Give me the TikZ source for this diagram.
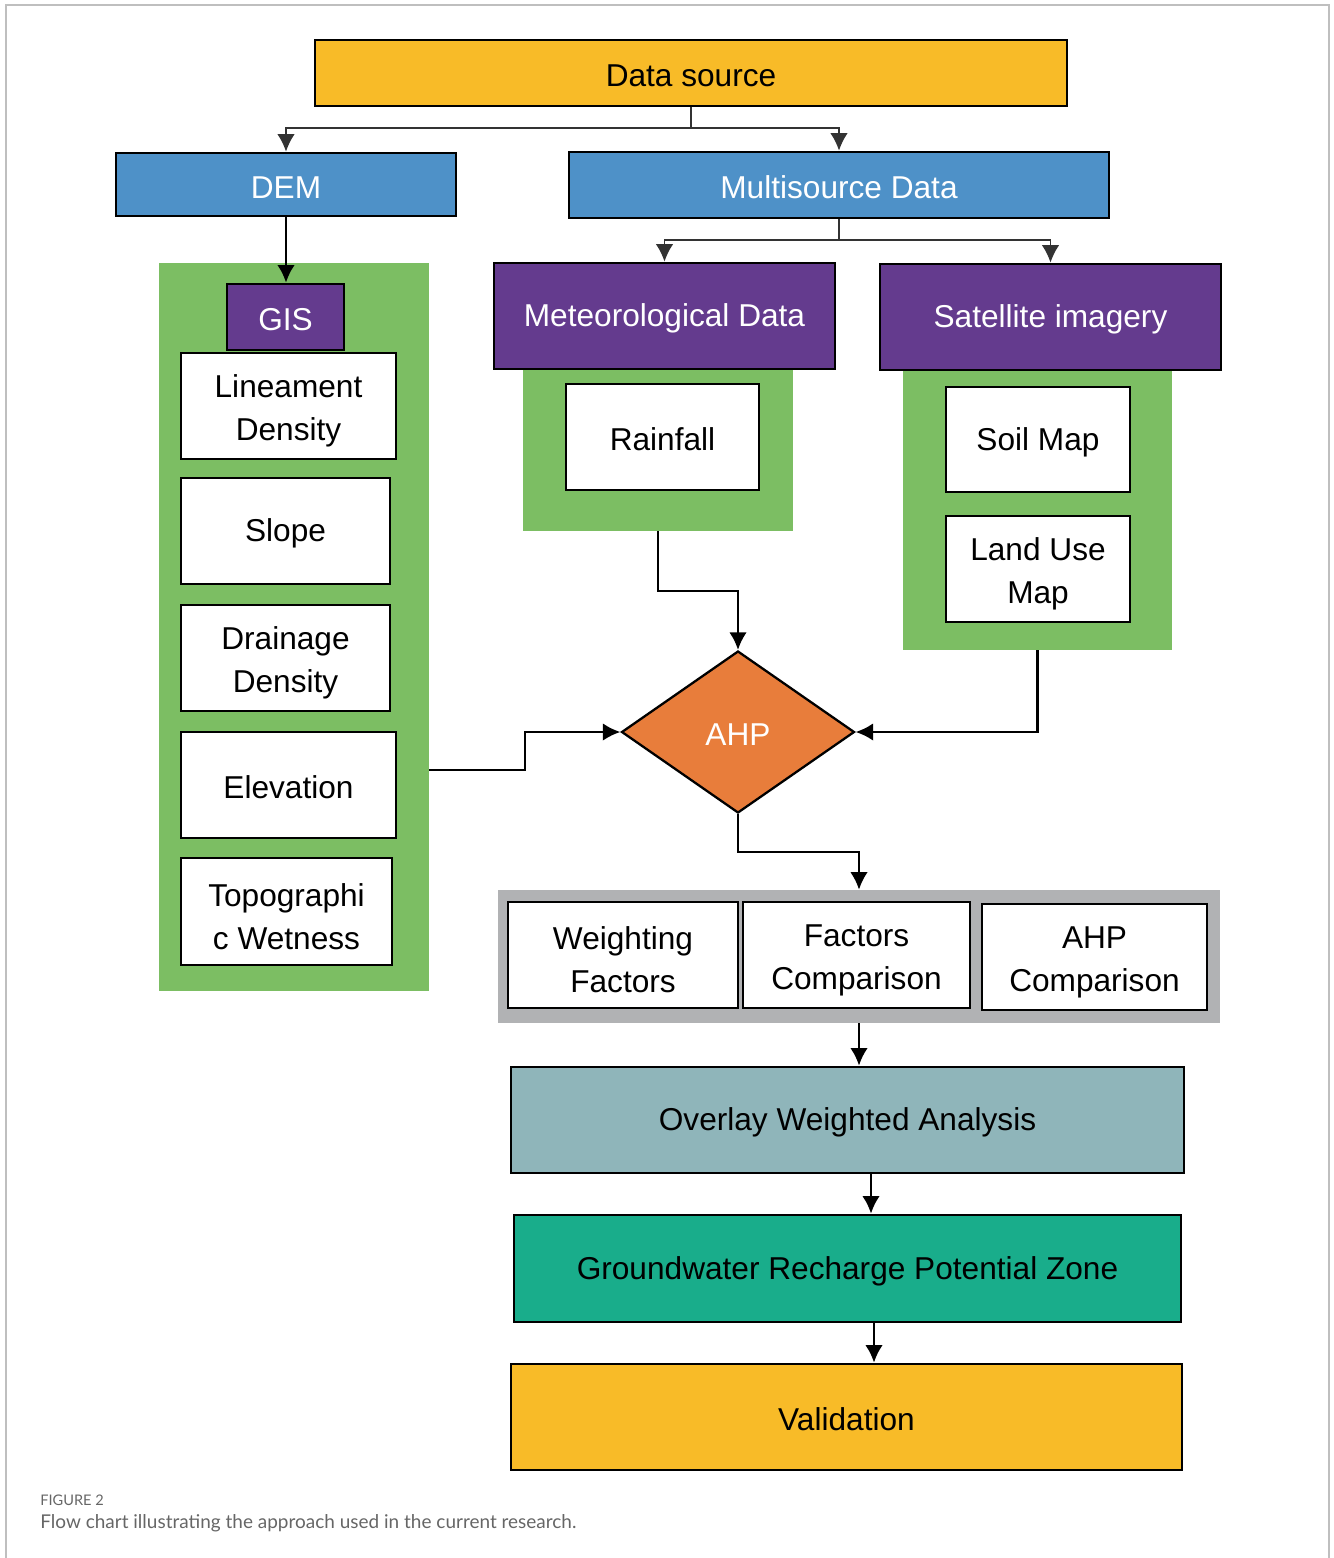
\documentclass[tikz,border=0pt]{standalone}
\usepackage{fontspec}
\setmainfont{Liberation Sans}
\newfontfamily\capfont{Lato}
\usetikzlibrary{arrows.meta,shapes.geometric}

\definecolor{srcyellow}{HTML}{F8BB28}
\definecolor{demblue}{HTML}{4E91C8}
\definecolor{hdpurple}{HTML}{643B8E}
\definecolor{pnlgreen}{HTML}{7CBE63}
\definecolor{ahporange}{HTML}{E87D3B}
\definecolor{pnlgray}{HTML}{B1B2B4}
\definecolor{ovateal}{HTML}{8FB5BA}
\definecolor{grzteal}{HTML}{19AD8B}

\tikzset{
  box/.style={draw=black,line width=1.6pt,fill=white,align=center,inner sep=0pt,
    font=\fontsize{18}{24.5}\selectfont,execute at begin node={\rule{0pt}{15.8pt}}},
  box2/.style={box,execute at begin node={\rule{0pt}{43pt}}},
  panel/.style={inner sep=0pt},
  link/.style={->,line width=1.3pt},
  thinlink/.style={line width=0.9pt,black!80},
}

\begin{document}
\begin{tikzpicture}[x=0.02cm,y=-0.02cm,>={Latex[length=10pt,width=10pt]}]
  \useasboundingbox (0,0) rectangle (1333,1558);
  % frame and caption
  \draw[color=black!25,line width=1.2pt] (6,1558) -- (6,5) -- (1329,5) -- (1329,1558);
  \node[anchor=west,inner sep=0pt,text=black!60,font=\capfont\fontsize{8.3}{10}\selectfont] (fig) at (40,1500) {FIGURE 2};
  \node[anchor=west,inner sep=0pt,text=black!60,font=\capfont\fontsize{10.8}{13}\selectfont] (cap) at (40,1523) {Flow chart illustrating the approach used in the current research.};

  % panels
  \node[panel,fill=pnlgreen,minimum width=5.4cm,minimum height=14.56cm] (gpl) at (294,627) {};
  \node[panel,fill=pnlgreen,minimum width=5.4cm,minimum height=3.24cm] (gpm) at (658,450) {};
  \node[panel,fill=pnlgreen,minimum width=5.38cm,minimum height=5.6cm] (gps) at (1037.5,510) {};
  \node[panel,fill=pnlgray,minimum width=14.44cm,minimum height=2.66cm] (gray) at (859,956.5) {};

  % top
  \node[box,fill=srcyellow,minimum width=15.04cm,minimum height=1.32cm] (src) at (691,73) {Data source};
  \node[box,fill=demblue,text=white,minimum width=6.8cm,minimum height=1.26cm] (dem) at (286,184.5) {DEM};
  \node[box,fill=demblue,text=white,minimum width=10.8cm,minimum height=1.32cm] (msd) at (839,185) {Multisource Data};

  % left column
  \node[box,fill=hdpurple,text=white,minimum width=2.34cm,minimum height=1.32cm] (gis) at (285.5,317) {GIS};
  \node[box2,minimum width=4.3cm,minimum height=2.12cm] (lin) at (288.5,406) {Lineament\\Density};
  \node[box,minimum width=4.18cm,minimum height=2.12cm] (slope) at (285.5,531) {Slope};
  \node[box2,minimum width=4.18cm,minimum height=2.12cm] (drain) at (285.5,658) {Drainage\\Density};
  \node[box,minimum width=4.3cm,minimum height=2.12cm] (elev) at (288.5,785) {Elevation};
  \node[box2,minimum width=4.22cm,minimum height=2.14cm] (topo) at (286.5,911.5) {Topographi\\c Wetness};

  % right columns
  \node[box,fill=hdpurple,text=white,minimum width=6.82cm,minimum height=2.12cm] (met) at (664.5,316) {Meteorological Data};
  \node[box,minimum width=3.86cm,minimum height=2.12cm] (rain) at (662.5,437) {Rainfall};
  \node[box,fill=hdpurple,text=white,minimum width=6.82cm,minimum height=2.12cm] (sat) at (1050.5,317) {Satellite imagery};
  \node[box,minimum width=3.68cm,minimum height=2.1cm] (soil) at (1038,439.5) {Soil Map};
  \node[box2,minimum width=3.68cm,minimum height=2.12cm] (lu) at (1038,569) {Land Use\\Map};

  \node[box,diamond,fill=ahporange,text=white,line width=1.3pt,minimum width=4.66cm,minimum height=3.24cm] (ahp) at (738,732) {AHP};

  % bottom
  \node[box2,minimum width=4.6cm,minimum height=2.12cm] (wf) at (623,955) {Weighting\\Factors};
  \node[box2,minimum width=4.54cm,minimum height=2.12cm] (fc) at (856.5,955) {Factors\\Comparison};
  \node[box2,minimum width=4.5cm,minimum height=2.12cm] (ac) at (1094.5,957) {AHP\\Comparison};
  \node[box,fill=ovateal,minimum width=13.46cm,minimum height=2.12cm] (ova) at (847.5,1120) {Overlay Weighted Analysis};
  \node[box,fill=grzteal,minimum width=13.34cm,minimum height=2.14cm] (grz) at (847.5,1268.5) {Groundwater Recharge Potential Zone};
  \node[box,fill=srcyellow,minimum width=13.42cm,minimum height=2.12cm] (val) at (846.5,1417) {Validation};

  % connectors
  \coordinate (j1) at (691,128);
  \coordinate (j2) at (839,240);
  \draw[thinlink] (src.south) -- (j1);
  \draw[thinlink,->] (j1) -| (dem.north);
  \draw[thinlink,->] (j1) -| (msd.north);
  \draw[link] (dem.south) -- (dem.south |- gis.north);
  \draw[thinlink] (msd.south) -- (j2);
  \draw[thinlink,->] (j2) -| (met.north);
  \draw[thinlink,->] (j2) -| (sat.north);
  \draw[link] (gpm.south) -- ++(0,60) -| (ahp.north);
  \draw[link] ([yshift=-2.86cm]gpl.east) -- ++(96,0) |- (ahp.west);
  \draw[link] (gps.south) |- (ahp.east);
  \draw[link] (ahp.south) -- ++(0,38) -| (gray.north);
  \draw[link] (gray.south) -- (gray.south |- ova.north);
  \draw[link] ([xshift=0.47cm]ova.south) -- ([xshift=0.47cm]ova.south |- grz.north);
  \draw[link] ([xshift=0.53cm]grz.south) -- ([xshift=0.53cm]grz.south |- val.north);
\end{tikzpicture}
\end{document}
